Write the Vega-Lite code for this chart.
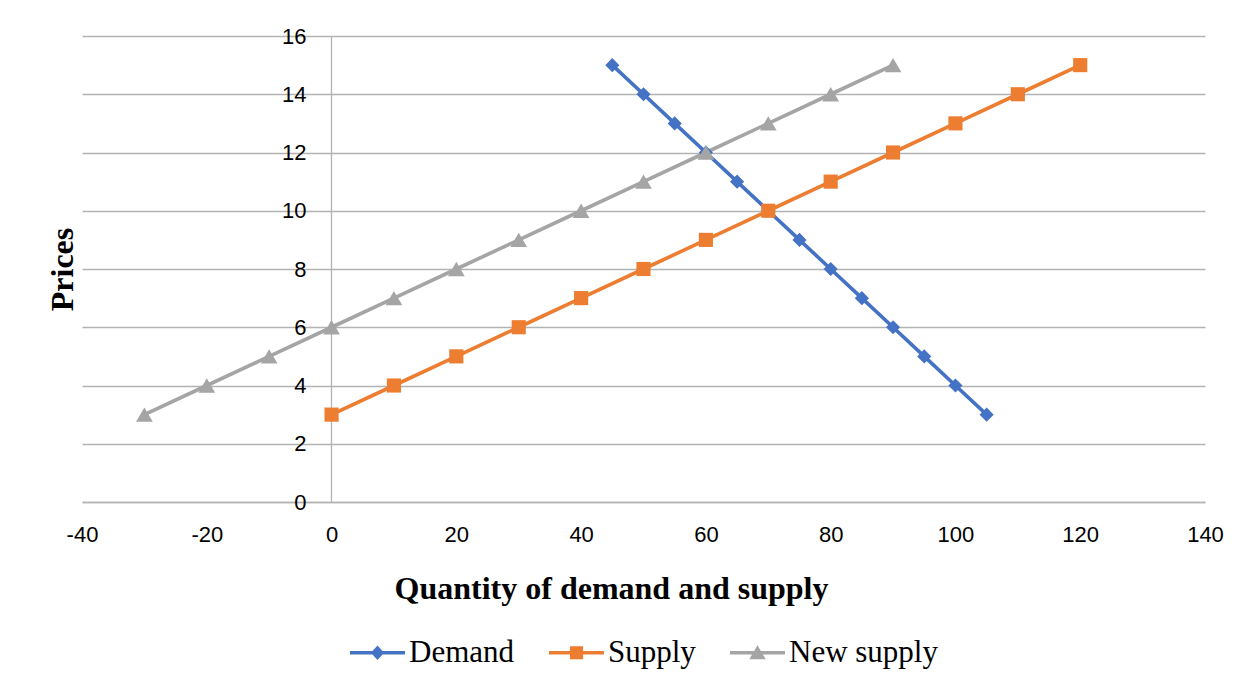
{
  "$schema": "https://vega.github.io/schema/vega-lite/v6.json",
  "width": 1123,
  "height": 466,
  "autosize": "none",
  "padding": {"left": 82, "top": 36, "right": 45, "bottom": 190},
  "background": "white",
  "data": {
    "values": [
      {"series": "Demand", "q": 45, "p": 15},
      {"series": "Demand", "q": 50, "p": 14},
      {"series": "Demand", "q": 55, "p": 13},
      {"series": "Demand", "q": 60, "p": 12},
      {"series": "Demand", "q": 65, "p": 11},
      {"series": "Demand", "q": 70, "p": 10},
      {"series": "Demand", "q": 75, "p": 9},
      {"series": "Demand", "q": 80, "p": 8},
      {"series": "Demand", "q": 85, "p": 7},
      {"series": "Demand", "q": 90, "p": 6},
      {"series": "Demand", "q": 95, "p": 5},
      {"series": "Demand", "q": 100, "p": 4},
      {"series": "Demand", "q": 105, "p": 3},
      {"series": "Supply", "q": 0, "p": 3},
      {"series": "Supply", "q": 10, "p": 4},
      {"series": "Supply", "q": 20, "p": 5},
      {"series": "Supply", "q": 30, "p": 6},
      {"series": "Supply", "q": 40, "p": 7},
      {"series": "Supply", "q": 50, "p": 8},
      {"series": "Supply", "q": 60, "p": 9},
      {"series": "Supply", "q": 70, "p": 10},
      {"series": "Supply", "q": 80, "p": 11},
      {"series": "Supply", "q": 90, "p": 12},
      {"series": "Supply", "q": 100, "p": 13},
      {"series": "Supply", "q": 110, "p": 14},
      {"series": "Supply", "q": 120, "p": 15},
      {"series": "New supply", "q": -30, "p": 3},
      {"series": "New supply", "q": -20, "p": 4},
      {"series": "New supply", "q": -10, "p": 5},
      {"series": "New supply", "q": 0, "p": 6},
      {"series": "New supply", "q": 10, "p": 7},
      {"series": "New supply", "q": 20, "p": 8},
      {"series": "New supply", "q": 30, "p": 9},
      {"series": "New supply", "q": 40, "p": 10},
      {"series": "New supply", "q": 50, "p": 11},
      {"series": "New supply", "q": 60, "p": 12},
      {"series": "New supply", "q": 70, "p": 13},
      {"series": "New supply", "q": 80, "p": 14},
      {"series": "New supply", "q": 90, "p": 15}
    ]
  },
  "encoding": {
    "x": {
      "field": "q",
      "type": "quantitative",
      "scale": {"domain": [-40, 140], "nice": false, "zero": false},
      "axis": {
        "values": [-40, -20, 0, 20, 40, 60, 80, 100, 120, 140],
        "labelExpr": "'' + datum.value",
        "grid": false,
        "ticks": false,
        "domainColor": "#b3b3b3",
        "domainWidth": 1.3,
        "labelFont": "Liberation Sans",
        "labelFontSize": 22,
        "labelColor": "#000000",
        "labelPadding": 22,
        "labelFlush": false,
        "labelOverlap": false,
        "title": "Quantity of demand and supply",
        "titleFont": "Liberation Serif",
        "titleFontSize": 32,
        "titleFontWeight": "bold",
        "titleColor": "#000000",
        "titlePadding": 28,
        "titleX": 529,
        "titleAlign": "center"
      }
    },
    "y": {
      "field": "p",
      "type": "quantitative",
      "scale": {"domain": [0, 16], "nice": false},
      "axis": {
        "values": [0, 2, 4, 6, 8, 10, 12, 14, 16],
        "offset": -249,
        "grid": true,
        "gridColor": "#b3b3b3",
        "gridWidth": 1.3,
        "ticks": false,
        "domainColor": "#b3b3b3",
        "domainWidth": 1.3,
        "labelFont": "Liberation Sans",
        "labelFontSize": 22,
        "labelColor": "#000000",
        "labelPadding": 25,
        "labelFlush": false,
        "labelOverlap": false,
        "title": "Prices",
        "titleFont": "Liberation Serif",
        "titleFontSize": 32,
        "titleFontWeight": "bold",
        "titleColor": "#000000",
        "titleAngle": -90,
        "titleX": -269,
        "titleY": 233,
        "titleAlign": "center",
        "titleBaseline": "middle"
      }
    },
    "color": {
      "field": "series",
      "type": "nominal",
      "sort": ["Demand", "Supply", "New supply"],
      "scale": {
        "domain": ["Demand", "Supply", "New supply"],
        "range": ["#4472c4", "#ed7d31", "#a5a5a5"]
      },
      "legend": {
        "title": null,
        "orient": "bottom",
        "direction": "horizontal",
        "offset": 21,
        "symbolSize": 3025,
        "symbolOpacity": 1,
        "symbolStrokeWidth": 0,
        "labelFont": "Liberation Serif",
        "labelFontSize": 31,
        "labelColor": "#000000",
        "labelOffset": 4,
        "columnPadding": 34,
        "labelLimit": 400
      }
    }
  },
  "layer": [
    {
      "mark": {"type": "line", "strokeWidth": 3.6}
    },
    {
      "transform": [{"filter": "datum.series === 'Demand'"}],
      "mark": {"type": "point", "shape": "diamond", "filled": true, "opacity": 1, "size": 200}
    },
    {
      "transform": [{"filter": "datum.series === 'Supply'"}],
      "mark": {"type": "point", "shape": "square", "filled": true, "opacity": 1, "size": 200}
    },
    {
      "transform": [{"filter": "datum.series === 'New supply'"}],
      "mark": {"type": "point", "shape": "triangle-up", "filled": true, "opacity": 1, "size": 280}
    },
    {
      "mark": {"type": "point", "filled": true, "opacity": 0, "size": 10},
      "encoding": {
        "shape": {
          "field": "series",
          "type": "nominal",
          "sort": ["Demand", "Supply", "New supply"],
          "scale": {
            "domain": ["Demand", "Supply", "New supply"],
            "range": [
              "M-1,-0.065H1V0.065H-1Z M0,-0.26L0.24,0L0,0.26L-0.24,0Z",
              "M-1,-0.065H1V0.065H-1Z M-0.24,-0.24H0.24V0.24H-0.24Z",
              "M-1,-0.065H1V0.065H-1Z M0,-0.27L0.3,0.24H-0.3Z"
            ]
          },
          "legend": {
            "title": null,
            "orient": "bottom",
            "direction": "horizontal",
            "offset": 21,
            "symbolSize": 3025,
            "symbolOpacity": 1,
            "symbolStrokeWidth": 0,
            "labelFont": "Liberation Serif",
            "labelFontSize": 31,
            "labelColor": "#000000",
            "labelOffset": 4,
            "columnPadding": 34,
            "labelLimit": 400
          }
        }
      }
    }
  ],
  "config": {
    "view": {"stroke": null},
    "legend": {"layout": {"anchor": "middle"}}
  }
}
